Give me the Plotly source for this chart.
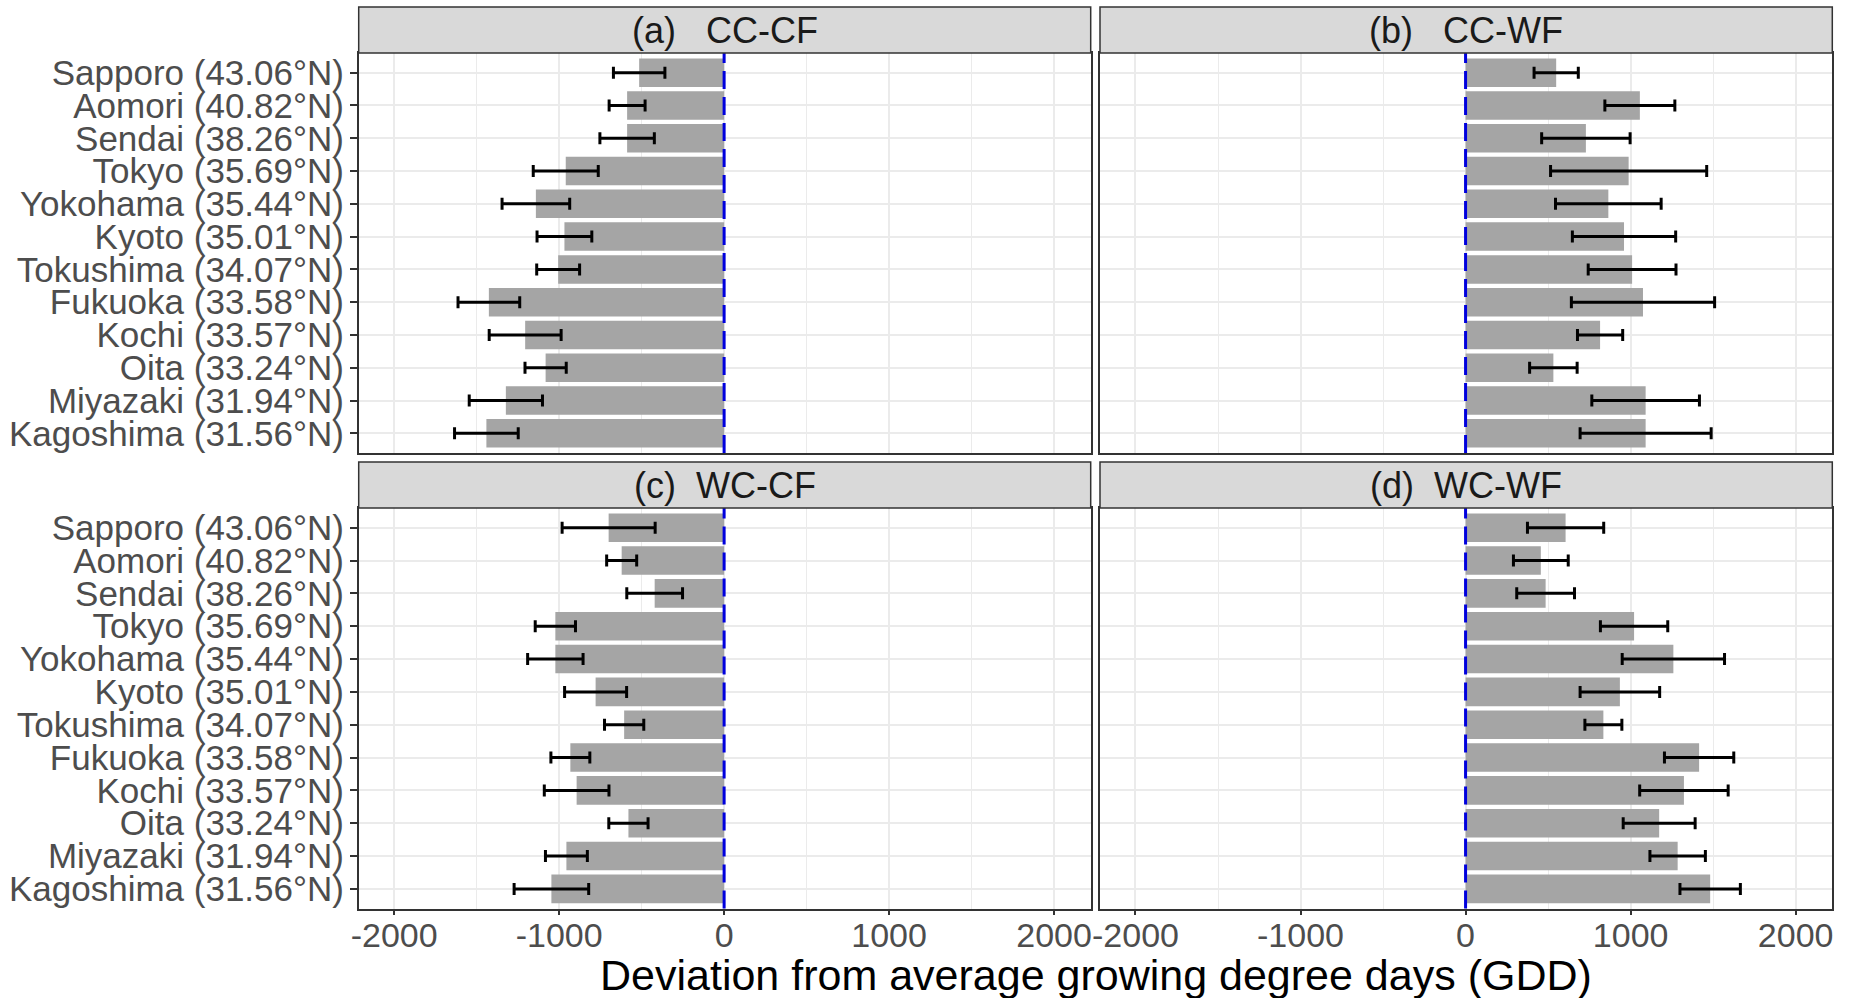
import plotly.graph_objects as go

cities = ["Sapporo (43.06°N)", "Aomori (40.82°N)", "Sendai (38.26°N)", "Tokyo (35.69°N)",
          "Yokohama (35.44°N)", "Kyoto (35.01°N)", "Tokushima (34.07°N)", "Fukuoka (33.58°N)",
          "Kochi (33.57°N)", "Oita (33.24°N)", "Miyazaki (31.94°N)", "Kagoshima (31.56°N)"]

panel_titles = ["(a)\u00a0\u00a0\u00a0CC-CF", "(b)\u00a0\u00a0\u00a0CC-WF", "(c)\u00a0\u00a0WC-CF", "(d)\u00a0\u00a0WC-WF"]

cc_cf_mean = [-515, -588, -588, -960, -1141, -968, -1006, -1426, -1206, -1082, -1323, -1441]
cc_cf_err = [156, 109, 165, 197, 205, 166, 130, 187, 218, 125, 222, 193]
cc_wf_mean = [549, 1056, 729, 988, 865, 960, 1009, 1075, 815, 532, 1091, 1091]
cc_wf_err = [134, 212, 268, 473, 320, 313, 266, 434, 137, 144, 326, 397]
wc_cf_mean = [-700, -621, -421, -1023, -1023, -779, -606, -932, -894, -580, -956, -1047]
wc_cf_err = [282, 91, 169, 122, 168, 188, 119, 118, 196, 119, 127, 226]
wc_wf_mean = [606, 456, 485, 1021, 1259, 935, 835, 1415, 1323, 1173, 1285, 1482]
wc_wf_err = [231, 166, 175, 204, 310, 241, 112, 210, 268, 218, 168, 183]

tick_vals = [-2000, -1000, 0, 1000, 2000]
tick_text = ["-2000", "-1000", "0", "1000", "2000"]
x_title = "Deviation from average growing degree days (GDD)"

W, H = 1850, 998
xl = [(358.7 / W, 1090.7 / W), (1100.0 / W, 1832.3 / W)]
yt = [(1 - 453 / H, 1 - 53 / H), (1 - 908.6 / H, 1 - 508 / H)]
strip_px = [(7, 53), (462, 508)]

FONT = "Liberation Sans, Arial, sans-serif"
BAR = "#A5A5A5"
GRID = "#EBEBEB"
BORDER = "#333333"

series = [(cc_cf_mean, cc_cf_err), (cc_wf_mean, cc_wf_err),
          (wc_cf_mean, wc_cf_err), (wc_wf_mean, wc_wf_err)]

fig = go.Figure()
layout = dict(width=W, height=H, margin=dict(l=0, r=0, t=0, b=0, autoexpand=False),
              paper_bgcolor="white", plot_bgcolor="white", showlegend=False,
              bargap=0.13)
shapes = []
annotations = []

for i, (m, e) in enumerate(series):
    row, col = divmod(i, 2)
    k = "" if i == 0 else str(i + 1)
    fig.add_trace(go.Bar(x=m, y=cities, orientation="h", marker=dict(color=BAR, line=dict(width=0)),
                         error_x=dict(type="data", array=e, visible=True, color="black",
                                      thickness=3, width=6),
                         xaxis="x" + k, yaxis="y" + k))
    layout["xaxis" + k] = dict(
        domain=list(xl[col]), anchor="y" + k, range=[-2215, 2222], automargin=False,
        tickmode="array", tickvals=tick_vals, ticktext=tick_text,
        showticklabels=(row == 1), ticks="outside" if row == 1 else "",
        ticklen=5, tickwidth=1.5, tickcolor=BORDER, ticklabelstandoff=-9,
        tickfont=dict(family=FONT, size=34, color="#4D4D4D"),
        showgrid=True, gridcolor=GRID, gridwidth=1.6,
        minor=dict(tickvals=[-1500, -500, 500, 1500], showgrid=True, gridcolor=GRID, gridwidth=0.9),
        zeroline=False, showline=True, linecolor=BORDER, linewidth=1.5, mirror=True)
    layout["yaxis" + k] = dict(
        domain=list(yt[row]), anchor="x" + k, type="category", automargin=False,
        categoryorder="array", categoryarray=cities, range=[11.6, -0.6],
        tickmode="array", tickvals=cities, ticktext=cities,
        showticklabels=(col == 0), ticks="outside" if col == 0 else "",
        ticklen=7, tickwidth=1.5, tickcolor=BORDER, ticklabelstandoff=-1,
        tickfont=dict(family=FONT, size=35, color="#4D4D4D"),
        showgrid=True, gridcolor=GRID, gridwidth=1.6, zeroline=False,
        showline=True, linecolor=BORDER, linewidth=1.5, mirror=True)
    shapes.append(dict(type="line", xref="x" + k, yref="y" + k + " domain", x0=0, x1=0, y0=0, y1=1,
                       line=dict(color="#0000DD", width=3, dash="18px,8px"), layer="above"))
    s0, s1 = strip_px[row]
    shapes.append(dict(type="rect", xref="paper", yref="paper", x0=xl[col][0], x1=xl[col][1],
                       y0=1 - s1 / H, y1=1 - s0 / H, fillcolor="#D9D9D9",
                       line=dict(color=BORDER, width=1.5), layer="above"))
    annotations.append(dict(text=panel_titles[i], xref="paper", yref="paper",
                            x=(xl[col][0] + xl[col][1]) / 2, y=1 - (s0 + s1) / 2 / H,
                            xanchor="center", yanchor="middle", showarrow=False,
                            font=dict(family=FONT, size=36, color="#1A1A1A")))

annotations.append(dict(text=x_title, xref="paper", yref="paper",
                        x=(xl[0][0] + xl[1][1]) / 2, y=1 - 975 / H,
                        xanchor="center", yanchor="middle", showarrow=False,
                        font=dict(family=FONT, size=43, color="black")))

layout["shapes"] = shapes
layout["annotations"] = annotations
fig.update_layout(**layout)
fig.write_html("out.html")
